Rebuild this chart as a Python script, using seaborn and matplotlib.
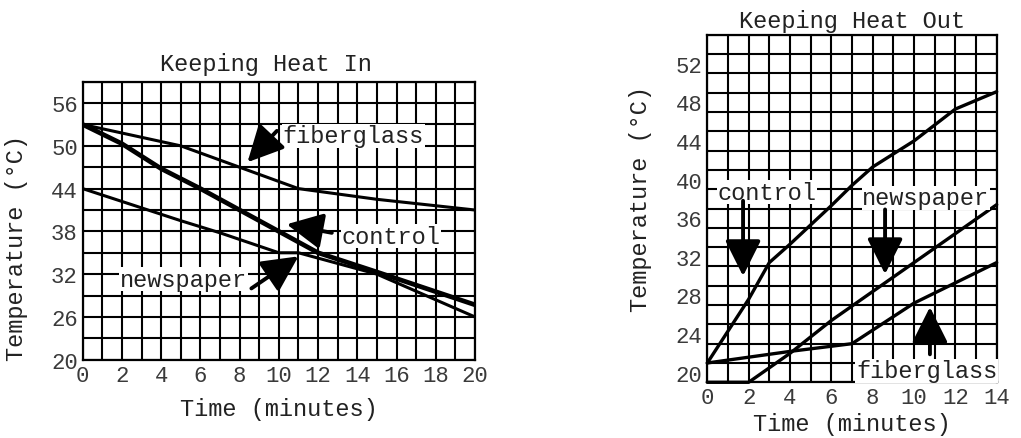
import numpy as np
import pandas as pd
import matplotlib
matplotlib.use('Agg')
import matplotlib.pyplot as plt
import seaborn as sns

# --- data: Keeping Heat In ---
in_fiber_t = [0, 5, 8, 11, 15, 20]
in_fiber_temp = [53, 50, 47, 44, 42.5, 41]
in_control_t = [0, 2, 4, 6, 8, 10, 12, 15, 20]
in_control_temp = [53, 50.3, 46.8, 44, 41, 38, 35, 32.3, 27.7]
in_news_t = [0, 3, 5, 7, 10, 11, 15, 20]
in_news_temp = [44, 41.3, 39.5, 37.8, 35, 35, 32, 26]

# --- data: Keeping Heat Out ---
out_control_t = [0, 2, 3, 4, 6, 7, 8, 10, 12, 14]
out_control_temp = [21, 27.6, 31.4, 33.3, 37.3, 39.4, 41.3, 44, 47.3, 49.1]
out_news_t = [0, 2, 4, 6, 8, 10, 12, 14]
out_news_temp = [19, 19, 22, 25.4, 28.4, 31.4, 34.4, 37.4]
out_fiber_t = [0, 4, 7, 10, 12, 14]
out_fiber_temp = [21, 22.2, 23, 27.2, 29.3, 31.4]

in_yticks = [20, 26, 32, 38, 44, 50, 56]
out_yticks = [20, 24, 28, 32, 36, 40, 44, 48, 52]

sns.set_theme(style='white')
plt.rcParams['font.family'] = ['Liberation Mono', 'DejaVu Sans Mono']
FS = 16
TXT = '#222222'

fig = plt.figure(figsize=(10.21, 4.39), dpi=100)
W, H = 1021, 439
ax1 = fig.add_axes([82.7 / W, (H - 360.7) / H, (475 - 82.7) / W, (360.7 - 82.7) / H])
ax2 = fig.add_axes([707.3 / W, (H - 383.3) / H, (996.7 - 707.3) / W, (383.3 - 35.7) / H])


def frame(ax):
    for s in ax.spines.values():
        s.set_color('black')
        s.set_linewidth(1.6)
    ax.tick_params(which='both', length=0, labelsize=FS, labelcolor='#3a3a3a')
    ax.set_xlabel('Time (minutes)', fontsize=FS + 1, color=TXT)
    ax.set_ylabel('Temperature (°C)', fontsize=FS + 1, color=TXT)


def label(ax, txt, xy):
    ax.text(xy[0], xy[1], txt, fontsize=FS + 1, color=TXT, va='center', ha='left',
            bbox=dict(facecolor='white', edgecolor='none', pad=0.5), zorder=5)


def arrow(ax, tail, head):
    ax.annotate('', xy=head, xytext=tail,
                arrowprops=dict(arrowstyle='-|>,head_length=1.0,head_width=0.5',
                                mutation_scale=22, lw=2.8, color='black',
                                shrinkA=0, shrinkB=0), zorder=6)


# ---------- left chart ----------
df_in = pd.concat([
    pd.DataFrame({'t': in_fiber_t, 'temp': in_fiber_temp, 'kind': 'fiberglass'}),
    pd.DataFrame({'t': in_control_t, 'temp': in_control_temp, 'kind': 'control'}),
    pd.DataFrame({'t': in_news_t, 'temp': in_news_temp, 'kind': 'newspaper'}),
])
sns.lineplot(data=df_in, x='t', y='temp', hue='kind', size='kind',
             sizes={'fiberglass': 2.2, 'control': 3.4, 'newspaper': 2.2},
             palette={'fiberglass': 'black', 'control': 'black', 'newspaper': 'black'},
             legend=False, sort=False, estimator=None, ax=ax1, zorder=3)
ax1.set_xlim(0, 20)
ax1.set_ylim(20, 59)
ax1.set_xticks(range(0, 21, 2))
ax1.set_xticks(range(0, 21), minor=True)
ax1.set_yticks(in_yticks)
ax1.set_yticks(np.arange(20, 60, 3), minor=True)
ax1.grid(which='both', color='black', linewidth=1.5)
frame(ax1)
ax1.xaxis.labelpad = 8
ax1.yaxis.set_label_coords(-0.14, 0.405)
ax1.text(0.467, 1.065, 'Keeping Heat In', transform=ax1.transAxes, ha='center',
         va='center', fontsize=FS + 1, color=TXT)

label(ax1, 'fiberglass', (10.2, 51.4))
arrow(ax1, (9.9, 52.1), (8.4, 47.7))
label(ax1, 'control', (13.2, 37.35))
arrow(ax1, (12.7, 37.8), (10.4, 39.0))
label(ax1, 'newspaper', (1.9, 31.3))
arrow(ax1, (8.6, 30.0), (11.0, 34.5))

# ---------- right chart ----------
df_out = pd.concat([
    pd.DataFrame({'t': out_control_t, 'temp': out_control_temp, 'kind': 'control'}),
    pd.DataFrame({'t': out_news_t, 'temp': out_news_temp, 'kind': 'newspaper'}),
    pd.DataFrame({'t': out_fiber_t, 'temp': out_fiber_temp, 'kind': 'fiberglass'}),
])
sns.lineplot(data=df_out, x='t', y='temp', hue='kind',
             palette={'fiberglass': 'black', 'control': 'black', 'newspaper': 'black'},
             linewidth=2.4, legend=False, sort=False, estimator=None, ax=ax2, zorder=3)
for ln in ax2.lines:
    ln.set_clip_on(False)
ax2.set_xlim(0, 14)
ax2.set_ylim(19, 55)
ax2.set_xticks(range(0, 15, 2))
ax2.set_xticks(range(0, 15), minor=True)
ax2.set_yticks(out_yticks)
ax2.set_yticks(np.arange(19, 56, 2), minor=True)
ax2.grid(which='both', axis='x', color='black', linewidth=1.5)
ax2.grid(which='minor', axis='y', color='black', linewidth=1.5)
frame(ax2)
ax2.xaxis.labelpad = 3
ax2.yaxis.set_label_coords(-0.19, 0.53)
ax2.text(0.5, 1.04, 'Keeping Heat Out', transform=ax2.transAxes, ha='center',
         va='center', fontsize=FS + 1, color=TXT)

label(ax2, 'control', (0.5, 38.7))
arrow(ax2, (1.73, 37.8), (1.73, 30.0))
label(ax2, 'newspaper', (7.5, 38.1))
arrow(ax2, (8.6, 36.9), (8.6, 30.2))
label(ax2, 'fiberglass', (7.2, 20.2))
arrow(ax2, (10.77, 21.9), (10.77, 26.8))

fig.savefig('out.png', dpi=100)
